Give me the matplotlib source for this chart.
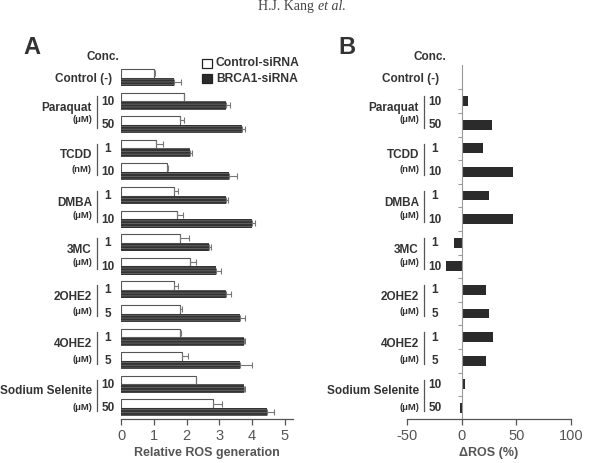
import matplotlib
matplotlib.use("Agg")
import matplotlib.pyplot as plt
import matplotlib.transforms as mtransforms
from matplotlib.patches import Rectangle

plt.rcParams['font.family'] = ['Liberation Sans', 'DejaVu Sans']
plt.rcParams['hatch.linewidth'] = 0.6

# ---------------- data ----------------
group_names = ["Control (-)", "Paraquat", "TCDD", "DMBA", "3MC", "2OHE2", "4OHE2", "Sodium Selenite"]
group_units = [None, "(\u03bcM)", "(nM)", "(\u03bcM)", "(\u03bcM)", "(\u03bcM)", "(\u03bcM)", "(\u03bcM)"]
group_concs = [[""], ["10", "50"], ["1", "10"], ["1", "10"], ["1", "10"], ["1", "5"], ["1", "5"], ["10", "50"]]

control_sirna = [1.01, 1.91, 1.81, 1.08, 1.40, 1.61, 1.71, 1.81, 2.10, 1.63, 1.81, 1.81, 1.86, 2.29, 2.81]
control_err = [0.02, 0.02, 0.10, 0.21, 0.03, 0.13, 0.17, 0.27, 0.18, 0.10, 0.05, 0.02, 0.17, 0.01, 0.28]
brca1_sirna = [1.61, 3.21, 3.68, 2.11, 3.30, 3.21, 4.01, 2.70, 2.89, 3.21, 3.62, 3.74, 3.63, 3.76, 4.47]
brca1_err = [0.23, 0.13, 0.10, 0.06, 0.23, 0.07, 0.09, 0.06, 0.16, 0.15, 0.16, 0.04, 0.38, 0.02, 0.20]
delta_ros = [0, 5.5, 28, 19.2, 46.6, 24.7, 46.6, -6.7, -14, 22.6, 24.7, 29, 22.6, 2.7, -1.2]

xticks_a = [0, 1, 2, 3, 4, 5]
xticks_b = [-50, 0, 50, 100]

# ---------------- layout ----------------
W, H = 589, 463
unit_offsets = [None, 0.76, 0.88, 0.86, 0.84, 0.92, 0.94, 1.0]
TXT = '#333333'
GRY = '#555555'

fig = plt.figure(figsize=(W / 100, H / 100), dpi=100)

def fx(px):
    return px / W

def fy(py):
    return 1 - py / H

ax_bottom, ax_top = 419, 65
n = len(control_sirna)
rows = list(range(n))
ylim = (14.47, -0.53)

axA = fig.add_axes([fx(121), fy(ax_bottom), fx(293) - fx(121), fy(ax_top) - fy(ax_bottom)])
axB = fig.add_axes([fx(407), fy(ax_bottom), fx(571) - fx(407), fy(ax_top) - fy(ax_bottom)])

# ---- Panel A ----
bh = 0.36
axA.barh([r - bh / 2 for r in rows], control_sirna, height=bh, color='white',
         edgecolor=GRY, linewidth=0.8, zorder=2)
axA.errorbar(control_sirna, [r - bh / 2 for r in rows],
             xerr=[[0] * n, control_err], fmt='none', ecolor='#777777',
             elinewidth=0.8, capsize=2.2, capthick=0.8, zorder=3)
axA.barh([r + bh / 2 for r in rows], brca1_sirna, height=bh, color='#333333',
         edgecolor='#6a6a6a', hatch='------', linewidth=0.0, zorder=2)
axA.errorbar(brca1_sirna, [r + bh / 2 for r in rows],
             xerr=[[0] * n, brca1_err], fmt='none', ecolor='#777777',
             elinewidth=0.8, capsize=2.2, capthick=0.8, zorder=3)
axA.set_xlim(0, 5.25)
axA.set_ylim(*ylim)
for s in ['top', 'right', 'left']:
    axA.spines[s].set_visible(False)
axA.spines['bottom'].set_color(GRY)
axA.spines['bottom'].set_linewidth(0.9)
axA.set_yticks([])
axA.set_xticks(xticks_a)
axA.set_xticklabels([str(t) for t in xticks_a])
axA.tick_params(axis='x', colors=GRY, labelsize=10.5, length=4, width=0.9, pad=3)
axA.set_xlabel('Relative ROS generation', fontsize=9, fontweight='bold', color=GRY, labelpad=3)

# ---- Panel B ----
axB.barh(rows, delta_ros, height=0.42, color='#2b2b2b', zorder=2)
axB.set_xlim(-50, 100)
axB.set_ylim(*ylim)
axB.spines['top'].set_visible(False)
axB.spines['right'].set_visible(False)
axB.spines['left'].set_position(('data', 0))
axB.spines['left'].set_color('#999999')
axB.spines['left'].set_linewidth(0.8)
axB.spines['bottom'].set_color(GRY)
axB.spines['bottom'].set_linewidth(0.9)
axB.set_yticks([r + 0.5 for r in rows[:-1]])
axB.set_yticklabels([])
axB.tick_params(axis='y', colors='#999999', length=3, width=0.8)
axB.set_xticks(xticks_b)
axB.set_xticklabels([str(t) for t in xticks_b])
axB.tick_params(axis='x', colors=GRY, labelsize=10.5, length=4, width=0.9, pad=3)
axB.set_xlabel('\u0394ROS (%)', fontsize=9, fontweight='bold', color=GRY, labelpad=3)

# ---- labels ----
def draw_labels(ax, shift):
    tr = mtransforms.blended_transform_factory(fig.transFigure, ax.transData)
    ax.text(fx(103 + shift), -0.85, 'Conc.', transform=tr, ha='center', va='center',
            fontsize=8.5, fontweight='bold', color=TXT, clip_on=False)
    r = 0
    for gi, name in enumerate(group_names):
        concs = group_concs[gi]
        if group_units[gi] is None:
            ax.text(fx(112 + shift), r + 0.05, name, transform=tr, ha='right', va='center',
                    fontsize=8.5, fontweight='bold', color=TXT, clip_on=False)
        else:
            ax.text(fx(92 + shift), r + 0.30, name, transform=tr, ha='right', va='center',
                    fontsize=8.5, fontweight='bold', color=TXT, clip_on=False)
            ax.text(fx(92 + shift), r + unit_offsets[gi], group_units[gi], transform=tr,
                    ha='right', va='center', fontsize=6.8, fontweight='bold', color=TXT, clip_on=False)
            ax.plot([fx(97 + shift)] * 2, [r - 0.2, r + len(concs) - 1 + 0.12], transform=tr,
                    color=GRY, lw=0.9, clip_on=False)
            for k, c in enumerate(concs):
                ax.text(fx(108 + shift), r + k + 0.02, c, transform=tr, ha='center', va='center',
                        fontsize=8.5, fontweight='bold', color=TXT, clip_on=False)
        r += len(concs)

draw_labels(axA, 0)
draw_labels(axB, 327)

# ---- legend ----
fig.patches.append(Rectangle((fx(202), fy(68)), fx(10), fy(59) - fy(68), transform=fig.transFigure,
                             facecolor='white', edgecolor='#222222', linewidth=0.9))
fig.patches.append(Rectangle((fx(202), fy(83)), fx(10), fy(74) - fy(83), transform=fig.transFigure,
                             facecolor='#2b2b2b', edgecolor='#222222', linewidth=0.9))
fig.text(fx(216), fy(63.5), 'Control-siRNA', ha='left', va='center', fontsize=8.7,
         fontweight='bold', color=TXT)
fig.text(fx(216), fy(78.5), 'BRCA1-siRNA', ha='left', va='center', fontsize=8.7,
         fontweight='bold', color=TXT)

# ---- panel letters ----
fig.text(fx(32), fy(47), 'A', ha='center', va='center', fontsize=17, fontweight='bold', color=TXT)
fig.text(fx(347), fy(47), 'B', ha='center', va='center', fontsize=17, fontweight='bold', color=TXT)

# ---- header ----
fig.text(fx(317), fy(10), 'H.J. Kang ', ha='right', va='baseline', fontsize=10,
         family=['Liberation Serif', 'DejaVu Serif'], color='#444444')
fig.text(fx(318), fy(10), 'et al.', ha='left', va='baseline', fontsize=10, style='italic',
         family=['Liberation Serif', 'DejaVu Serif'], color='#444444')

fig.savefig('out.png', dpi=100)
